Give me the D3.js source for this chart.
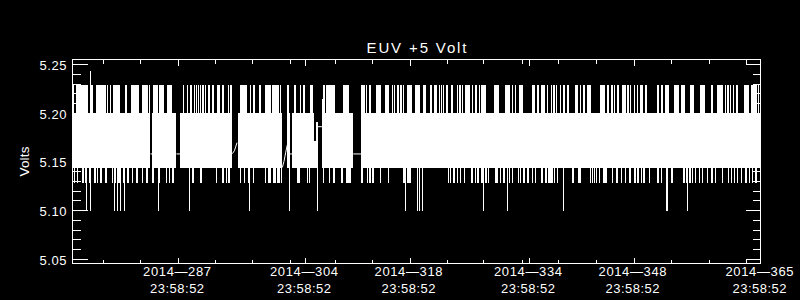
<html>
<script src="https://d3js.org/d3.v7.min.js"></script>
<body style="margin:0;background:black">
<svg id="chart" width=800 height=300 style="background:black"></svg>
<script>
// telemetry samples: sample i is at day-of-year T0 + i*SAMPLE_DAYS (2014)
var T0 = 273.86;
var SAMPLE_DAYS = 0.0446;
var N_SAMPLES = 2066;

// quantized voltage levels of the +5 V monitor
var LEVEL_TOP = 5.2284;   // upper excursions
var LEVEL_HI = 5.2000;    // top of normal toggling
var LEVEL_LO = 5.1432;    // bottom of normal toggling
var LEVEL_BOT = 5.1281;   // lower excursions
var LEVEL_DIP = 5.0993;   // deep dips
var LEVEL_SPIKE = 5.2431; // single high spike

// sample ranges where the signal toggles LEVEL_LO <-> LEVEL_HI
var bandRuns = [[0,234],[240,312],[324,480],[497,630],[645,653],[659,725],[751,843],[867,2066]];

// sample ranges where the signal reaches LEVEL_TOP
var upperRuns = [
  [2,6],[12,22],[24,46],[56,62],[72,100],[104,108],[112,116],[122,144],[158,164],[176,200],[208,226],[230,234],
  [242,256],[260,276],[284,300],[332,336],[344,348],[352,358],[364,368],[372,374],[378,380],[384,386],[390,394],
  [398,402],[408,412],[418,426],[434,442],[450,456],[466,470],[474,478],[502,525],
  [533,537],[543,547],[559,565],[577,597],[599,619],[623,627],[645,651],[665,671],[683,687],[691,699],[713,723],
  [751,757],[761,789],[813,831],[867,879],[881,885],[889,895],[911,927],[939,951],[959,963],[965,969],[975,979],
  [983,989],[991,995],[1003,1019],[1029,1044],
  [1052,1062],[1074,1080],[1086,1096],[1100,1104],[1106,1110],[1112,1116],[1122,1128],[1138,1144],[1154,1158],
  [1162,1166],[1170,1174],[1180,1194],[1200,1204],[1210,1214],[1220,1224],[1228,1232],[1234,1238],[1240,1242],
  [1266,1280],[1300,1314],[1320,1324],[1328,1332],[1340,1354],[1380,1388],[1396,1400],[1406,1418],[1424,1428],
  [1436,1440],[1444,1448],[1452,1456],[1464,1468],[1474,1478],[1484,1490],[1510,1518],[1524,1528],[1534,1540],
  [1546,1558],
  [1584,1598],[1606,1612],[1618,1622],[1626,1630],[1634,1642],[1650,1662],[1664,1670],[1674,1678],[1686,1690],
  [1694,1696],[1704,1714],[1720,1724],[1756,1762],[1768,1772],[1778,1790],[1806,1822],[1828,1840],[1854,1866],
  [1884,1900],[1916,1922],[1934,1952],[1958,1962],[1966,1970],[1974,1978],[1982,1986],[1992,1998],[2016,2032],
  [2038,2054],[2058,2062]
];

// sample ranges where the signal reaches LEVEL_BOT
var lowerRuns = [
  [4,8],[14,18],[30,34],[38,42],[50,56],[66,70],[74,78],[84,88],[98,104],[118,122],[128,132],[136,144],[152,156],
  [164,170],[178,182],[190,196],[208,212],[220,226],[240,246],[256,262],[280,284],[290,294],[298,304],[350,354],
  [360,364],[384,388],[430,434],[450,454],[460,464],[468,472],[502,506],[514,518],
  [527,533],[541,545],[577,581],[587,595],[603,611],[615,623],[625,629],[675,683],[703,707],[709,713],[751,755],
  [769,773],[783,787],[805,811],[821,835],[867,873],[883,887],[891,897],[899,905],[923,927],[947,951],[993,997],
  [1003,1009],[1011,1015],[1033,1037],
  [1128,1132],[1134,1138],[1144,1148],[1154,1158],[1164,1168],[1176,1180],[1198,1202],[1208,1212],[1216,1220],
  [1228,1234],[1240,1244],[1248,1250],[1270,1278],[1284,1288],[1294,1300],[1310,1314],[1320,1324],[1338,1342],
  [1344,1348],[1354,1358],[1364,1370],[1380,1384],[1388,1392],[1406,1412],[1420,1424],[1428,1444],[1446,1450],
  [1454,1458],[1500,1506],[1518,1528],[1554,1558],
  [1560,1564],[1566,1570],[1572,1576],[1580,1584],[1594,1606],[1620,1624],[1632,1638],[1646,1650],[1658,1662],
  [1672,1676],[1686,1692],[1696,1700],[1706,1710],[1714,1720],[1730,1734],[1754,1760],[1766,1770],[1796,1802],
  [1832,1838],[1842,1846],[1852,1856],[1860,1864],[1868,1872],[1880,1884],[1890,1894],[1904,1908],[1916,1922],
  [1928,1932],[1950,1954],[1968,1972],[1976,1980],[1986,1990],[1994,1998],[2006,2010],[2018,2024],[2030,2034],
  [2040,2044],[2048,2054]
];

// samples that dip to LEVEL_DIP
var dipSamples = [40,52,124,133,142,156,256,349,530,650,734,997,1033,1041,1049,1232,1306,1472,1783,1786,1846];

// samples that spike to LEVEL_SPIKE
var spikeSamples = [52];

// steady stretches (sample, volts) where the toggling stops
var flatSegs = [
  [[234,5.1578],[240,5.1578]],
  [[312,5.1578],[324,5.1578]],
  [[480,5.1581],[486,5.1610],[490,5.1650],[494,5.1694]],
  [[630,5.1439],[635,5.1500],[640,5.1590],[645,5.1671]],
  [[653,5.1578],[659,5.1578]],
  [[737,5.1858],[749,5.1858]],
  [[843,5.1578],[867,5.1578]]
];

// short partial columns (from, to, low volts, high volts)
var partialCols = [[725,731,5.1432,5.1708],[731,737,5.1432,5.1905],[749,751,5.1432,5.2143]];

// axis ticks
var xTickDays = [287,304,318,334,348,365];
var xTickTime = "23:58:52";
var xTickFraction = 86332/86400;
var xMinorDays = [277.97,282.92,292.95,297.90,302.93,309.01,313.96,323.99,328.89,334.02,338.92,343.93,353.96,359.04,364.00];
var yTicks = [5.05,5.10,5.15,5.20,5.25];
var yMinorTicks = [5.06,5.07,5.08,5.09,5.11,5.12,5.13,5.14,5.16,5.17,5.18,5.19,5.21,5.22,5.23,5.24];

var svg = d3.select("#chart");
var pLeft = 72.5, pRight = 760.5, pTop = 59.5, pBottom = 263.5;

var x = d3.scaleLinear().domain([T0, T0 + N_SAMPLES*SAMPLE_DAYS]).range([pLeft, pRight]);
var y = d3.scaleLinear().domain([5.0453, 5.2548]).range([pBottom, pTop]);
function sx(s){ return x(T0 + s*SAMPLE_DAYS); }

var plot = svg.append("g").attr("shape-rendering", "crispEdges");

function drawRuns(runs, hi, lo){
  plot.append("g").selectAll("rect").data(runs).join("rect")
    .attr("x", function(d){ return sx(d[0]); })
    .attr("width", function(d){ return Math.max(1, sx(d[1]) - sx(d[0])); })
    .attr("y", y(hi))
    .attr("height", y(lo) - y(hi))
    .attr("fill", "white");
}
drawRuns(bandRuns, LEVEL_HI, LEVEL_LO);
drawRuns(upperRuns, LEVEL_TOP, LEVEL_HI);
drawRuns(lowerRuns, LEVEL_LO, LEVEL_BOT);

plot.append("g").selectAll("rect").data(partialCols).join("rect")
  .attr("x", function(d){ return sx(d[0]); })
  .attr("width", function(d){ return Math.max(1, sx(d[1]) - sx(d[0])); })
  .attr("y", function(d){ return y(d[3]); })
  .attr("height", function(d){ return y(d[2]) - y(d[3]); })
  .attr("fill", "white");

plot.append("g").selectAll("line").data(dipSamples).join("line")
  .attr("x1", function(d){ return Math.round(sx(d)) + 0.5; })
  .attr("x2", function(d){ return Math.round(sx(d)) + 0.5; })
  .attr("y1", y(LEVEL_LO)).attr("y2", y(LEVEL_DIP))
  .attr("stroke", "white").attr("stroke-width", 1);

plot.append("g").selectAll("line").data(spikeSamples).join("line")
  .attr("x1", function(d){ return Math.round(sx(d)) + 0.5; })
  .attr("x2", function(d){ return Math.round(sx(d)) + 0.5; })
  .attr("y1", y(LEVEL_HI)).attr("y2", y(LEVEL_SPIKE))
  .attr("stroke", "white").attr("stroke-width", 1);

var line = d3.line().x(function(d){ return sx(d[0]); }).y(function(d){ return y(d[1]); });
svg.append("g").selectAll("path").data(flatSegs).join("path")
  .attr("d", line).attr("fill", "none").attr("stroke", "white").attr("stroke-width", 1);

// axes, ticks pointing inward on all four sides
function styleAxis(g){
  g.select(".domain").remove();
  g.selectAll("line").attr("stroke", "white").attr("shape-rendering", "crispEdges");
}
var fmt = d3.format(".2f");
svg.append("g").attr("transform", "translate(" + pLeft + ",0)")
  .call(d3.axisLeft(y).tickValues(yTicks).tickSize(-15).tickPadding(6).tickFormat(fmt))
  .call(styleAxis)
  .call(function(g){
    g.selectAll("text").attr("fill", "white").attr("font-family", "Liberation Sans").attr("font-size", 13)
      .attr("dy", "0.4em").attr("textLength", 27);
  });
svg.append("g").attr("transform", "translate(" + pLeft + ",0)")
  .call(d3.axisLeft(y).tickValues(yMinorTicks).tickSize(-8).tickFormat("")).call(styleAxis);
svg.append("g").attr("transform", "translate(" + pRight + ",0)")
  .call(d3.axisRight(y).tickValues(yTicks).tickSize(-15).tickFormat("")).call(styleAxis);
svg.append("g").attr("transform", "translate(" + pRight + ",0)")
  .call(d3.axisRight(y).tickValues(yMinorTicks).tickSize(-8).tickFormat("")).call(styleAxis);

var xMajor = xTickDays.map(function(d){ return d + xTickFraction; });
svg.append("g").attr("transform", "translate(0," + pBottom + ")")
  .call(d3.axisBottom(x).tickValues(xMajor).tickSize(-6).tickFormat("")).call(styleAxis);
svg.append("g").attr("transform", "translate(0," + pBottom + ")")
  .call(d3.axisBottom(x).tickValues(xMinorDays).tickSize(-3.5).tickFormat("")).call(styleAxis);
svg.append("g").attr("transform", "translate(0," + pTop + ")")
  .call(d3.axisTop(x).tickValues(xMajor).tickSize(-6).tickFormat("")).call(styleAxis);
svg.append("g").attr("transform", "translate(0," + pTop + ")")
  .call(d3.axisTop(x).tickValues(xMinorDays).tickSize(-4).tickFormat("")).call(styleAxis);

svg.append("rect").attr("x", pLeft).attr("y", pTop).attr("width", pRight - pLeft).attr("height", pBottom - pTop)
  .attr("fill", "none").attr("stroke", "white").attr("shape-rendering", "crispEdges");

// two-line date labels
var xl = svg.append("g").attr("fill", "white").attr("font-family", "Liberation Sans").attr("font-size", 13)
  .attr("text-anchor", "middle");
xl.selectAll("text.d").data(xTickDays).join("text").attr("class", "d")
  .attr("x", function(d){ return x(d + xTickFraction) - 1; }).attr("y", pBottom + 12)
  .attr("textLength", 68).text(function(d){ return "2014\u2014" + d; });
xl.selectAll("text.t").data(xTickDays).join("text").attr("class", "t")
  .attr("x", function(d){ return x(d + xTickFraction) - 1; }).attr("y", pBottom + 29.3)
  .attr("textLength", 54).text(xTickTime);

svg.append("text").attr("x", 416.5).attr("y", 53.3).attr("text-anchor", "middle")
  .attr("fill", "white").attr("font-family", "Liberation Sans").attr("font-size", 15)
  .attr("textLength", 100).text("EUV +5 Volt");

svg.append("text").attr("transform", "translate(28.5," + ((pTop + pBottom) / 2) + ") rotate(-90)")
  .attr("text-anchor", "middle").attr("fill", "white").attr("font-family", "Liberation Sans")
  .attr("font-size", 13.5).attr("textLength", 30).text("Volts");
</script>
</body>
</html>
